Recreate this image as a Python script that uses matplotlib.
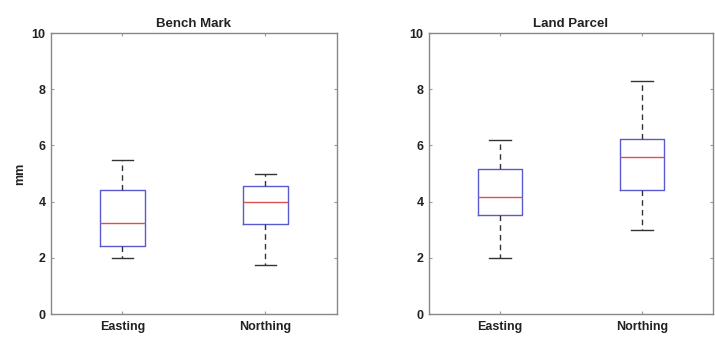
import matplotlib
matplotlib.use('Agg')
from matplotlib import pyplot as plt

plt.rcParams['font.family'] = ['Liberation Sans', 'DejaVu Sans']

groups = ['Easting', 'Northing']
titles = ['Bench Mark', 'Land Parcel']

# whisker low, q1, median, q3, whisker high
bench_low = [1.98, 1.75]
bench_q1 = [2.42, 3.20]
bench_med = [3.23, 4.00]
bench_q3 = [4.40, 4.55]
bench_high = [5.48, 5.00]

land_low = [1.98, 2.99]
land_q1 = [3.52, 4.41]
land_med = [4.18, 5.58]
land_q3 = [5.16, 6.22]
land_high = [6.19, 8.29]

panels = [
    (bench_low, bench_q1, bench_med, bench_q3, bench_high),
    (land_low, land_q1, land_med, land_q3, land_high),
]

fig = plt.figure(figsize=(7.15, 3.37), dpi=100)
positions = [[0.0713, 0.068, 0.400, 0.834], [0.600, 0.068, 0.397, 0.834]]

for k, (lo, q1, med, q3, hi) in enumerate(panels):
    ax = fig.add_axes(positions[k])
    stats = []
    for i in range(len(groups)):
        stats.append({'whislo': lo[i], 'q1': q1[i], 'med': med[i], 'q3': q3[i],
                      'whishi': hi[i], 'label': groups[i]})
    ax.bxp(stats, positions=[1, 2], widths=0.31, capwidths=0.15, showfliers=False,
           boxprops=dict(color='#5a5ad0', linewidth=1.0),
           medianprops=dict(color='#e05050', linewidth=1.0),
           whiskerprops=dict(color='#333333', linestyle=(0, (4, 3)), linewidth=1.0),
           capprops=dict(color='#333333', linewidth=1.0))
    ax.set_xlim(0.5, 2.5)
    ax.set_ylim(0, 10)
    ax.set_yticks([0, 2, 4, 6, 8, 10])
    ax.set_xticks([1, 2])
    ax.set_xticklabels(groups, fontsize=9, fontweight='bold', color='#222222')
    for lab in ax.get_yticklabels():
        lab.set_fontsize(9)
        lab.set_fontweight('bold')
        lab.set_color('#222222')
    ax.tick_params(direction='in', length=2.5, top=True, right=True, color='#999999', pad=4)
    ax.tick_params(axis='x', pad=5)
    for s in ax.spines.values():
        s.set_color('#888888')
        s.set_linewidth(1.0)
    ax.set_title(titles[k], fontsize=9.5, fontweight='bold', color='#222222', pad=4)
    if k == 0:
        ax.set_ylabel('mm', fontsize=9, fontweight='bold', color='#222222', labelpad=4)

plt.savefig('out.png', dpi=100)
